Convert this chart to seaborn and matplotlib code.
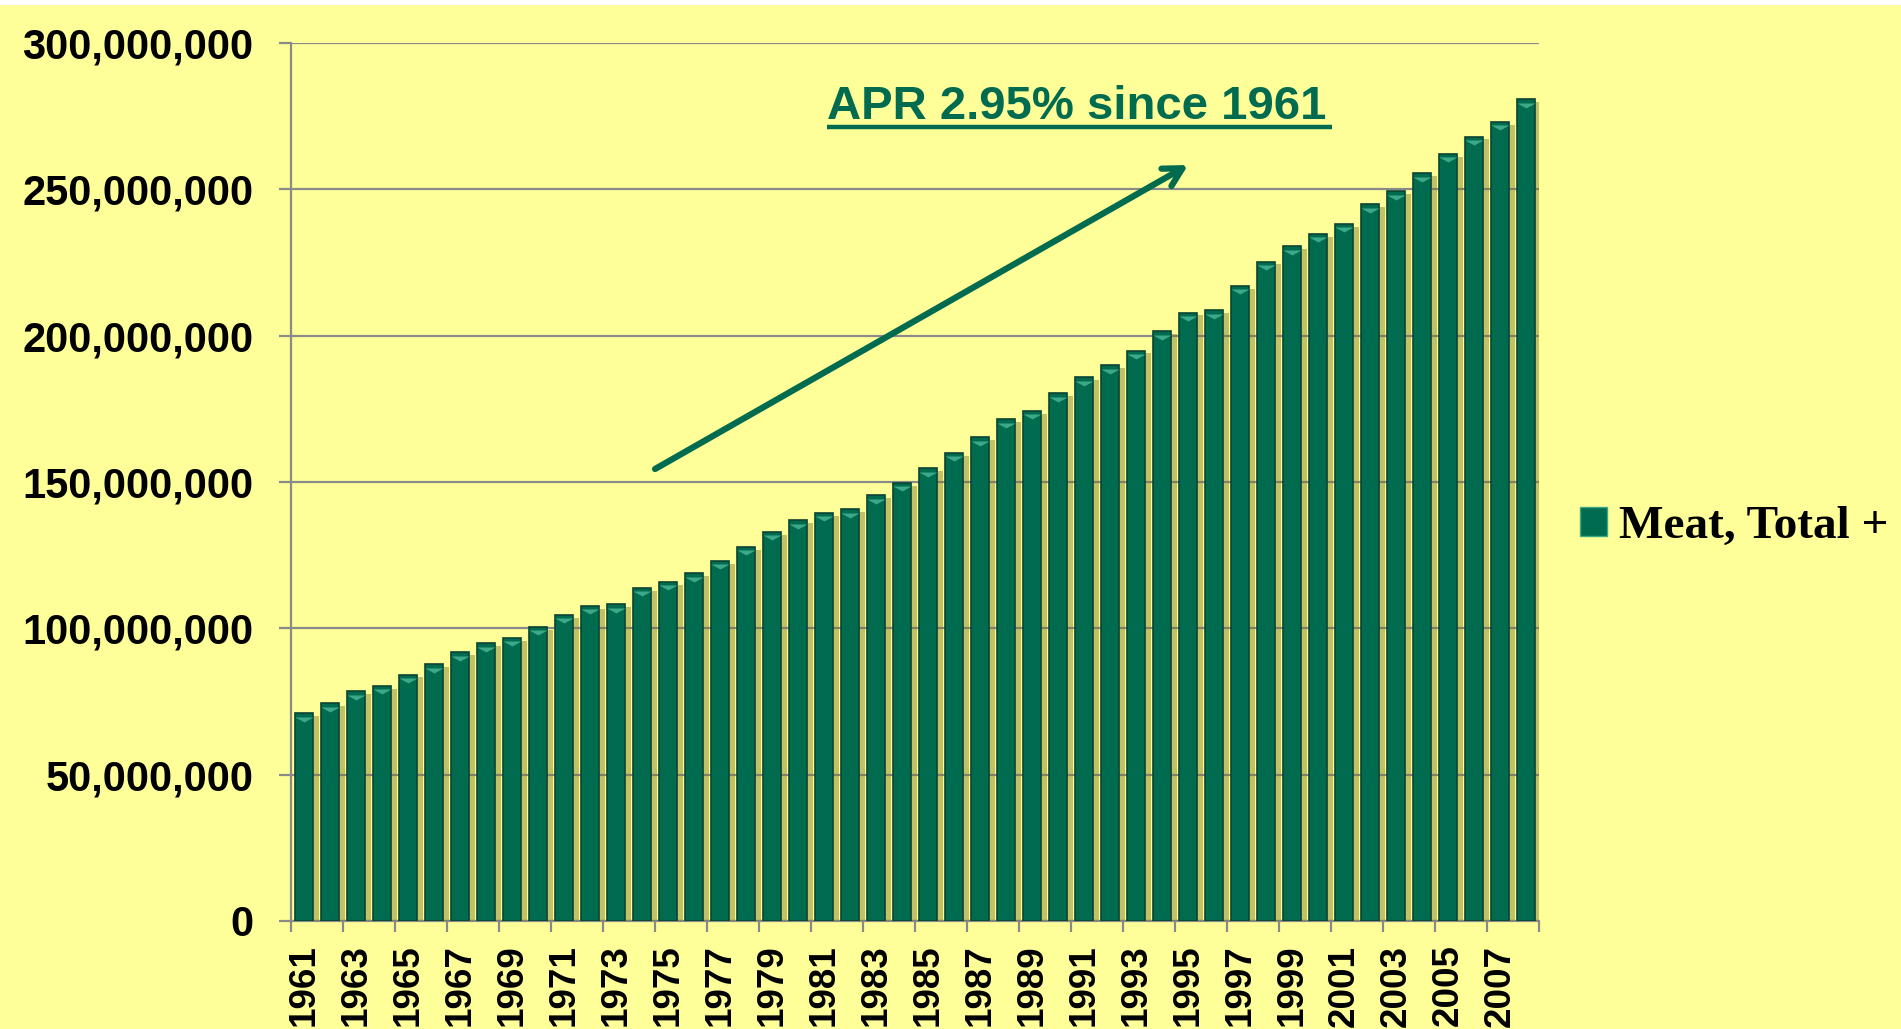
import matplotlib
matplotlib.use("Agg")
import matplotlib.pyplot as plt
import matplotlib.patheffects as pe
from matplotlib.patches import Rectangle, Patch
from matplotlib.path import Path
from matplotlib.ticker import FuncFormatter, FixedLocator
import matplotlib.transforms as mtransforms
import seaborn as sns
import pandas as pd

# World meat production, total (tonnes), 1961-2008
years = list(range(1961, 2009))
meat_total = [
    71.0e6, 74.4e6, 78.5e6, 80.3e6, 84.2e6, 87.8e6, 91.8e6, 94.9e6,
    96.7e6, 100.5e6, 104.6e6, 107.7e6, 108.2e6, 113.8e6, 115.9e6, 118.8e6,
    123.0e6, 127.8e6, 133.0e6, 137.0e6, 139.4e6, 140.7e6, 145.5e6, 149.7e6,
    154.7e6, 160.0e6, 165.3e6, 171.5e6, 174.3e6, 180.3e6, 185.8e6, 189.9e6,
    194.9e6, 201.5e6, 207.9e6, 208.7e6, 217.0e6, 225.3e6, 230.5e6, 234.8e6,
    238.2e6, 244.9e6, 249.4e6, 255.5e6, 262.1e6, 268.0e6, 273.1e6, 280.8e6,
]
series_name = "Meat, Total +"
annotation_text = "APR 2.95% since 1961"
y_ticks = [0, 50e6, 100e6, 150e6, 200e6, 250e6, 300e6]

df = pd.DataFrame({"year": [str(y) for y in years], "value": meat_total})

BG = "#FFFF99"
GREEN = "#006B4E"
GRID = "#8A8A8A"

sns.set_theme(style="white")
plt.rcParams["font.family"] = ["Liberation Sans", "DejaVu Sans"]
plt.rcParams["text.color"] = "black"
plt.rcParams["xtick.color"] = "black"
plt.rcParams["ytick.color"] = "black"

fig = plt.figure(figsize=(19.01, 10.29), dpi=100, facecolor=BG)
ax = fig.add_axes([291 / 1901, 1 - 921 / 1029, 1248 / 1901, 878 / 1029])
ax.set_facecolor(BG)

sns.barplot(data=df, x="year", y="value", color=GREEN, saturation=1,
            width=0.7, ax=ax, zorder=3, edgecolor="#0A4432", linewidth=1.2)

shadow = [pe.SimplePatchShadow(offset=(4, -2), shadow_rgbFace="#77772e", alpha=0.45),
          pe.Normal()]
for bar in ax.patches:
    bar.set_path_effects(shadow)

# light bevel at the top of each bar
bevel = Path([(-1, 0), (1, 0), (0, -0.55), (-1, 0)],
             [Path.MOVETO, Path.LINETO, Path.LINETO, Path.CLOSEPOLY])
offset = mtransforms.ScaledTranslation(0, -2.5 / 72, fig.dpi_scale_trans)
ax.plot(range(len(years)), meat_total, linestyle="none", marker=bevel,
        markersize=13, color="#3BA988", markeredgewidth=0,
        transform=ax.transData + offset, zorder=4)

ax.set_xlim(-0.5, len(years) - 0.5)
ax.set_ylim(0, 300e6)
ax.set_yticks(y_ticks)
ax.yaxis.set_major_formatter(FuncFormatter(lambda v, p: f"{int(v):,}"))
ax.grid(axis="y", color=GRID, linewidth=1.6, zorder=0)
ax.grid(axis="x", visible=False)

for side in ["top", "right"]:
    ax.spines[side].set_visible(False)
for side in ["left", "bottom"]:
    ax.spines[side].set_color(GRID)
    ax.spines[side].set_linewidth(1.6)

ax.set_xlabel("")
ax.set_ylabel("")

# year labels every other year, tick marks on category boundaries
ax.xaxis.set_major_locator(FixedLocator(list(range(0, len(years), 2))))
ax.set_xticklabels([str(y) for y in years[::2]], rotation=90, fontsize=26.5,
                   fontweight="bold", va="top", color="black")
ax.xaxis.set_minor_locator(FixedLocator([i - 0.5 for i in range(0, len(years) + 1, 2)]))
ax.tick_params(axis="x", which="major", length=0, pad=17, labelcolor="black")
ax.tick_params(axis="x", which="minor", length=8, width=1.6, color=GRID, bottom=True)
ax.tick_params(axis="y", which="major", length=9, width=1.6, color=GRID, left=True, pad=18,
               labelsize=30, labelcolor="black")
for lbl in ax.get_yticklabels():
    lbl.set_fontweight("bold")

# growth arrow and rate caption
ax.annotate("", xy=(0.7188, 0.861), xytext=(0.2917, 0.5148),
            xycoords="axes fraction", textcoords="axes fraction",
            arrowprops=dict(arrowstyle="->,head_length=1.1,head_width=0.6",
                            color=GREEN, linewidth=4.5, shrinkA=0, shrinkB=0),
            zorder=6)
cap = ax.text(0.4295, 0.9134, annotation_text, transform=ax.transAxes,
              ha="left", va="baseline", fontsize=34, fontweight="bold",
              color=GREEN, zorder=6)

fig.canvas.draw()
bb = cap.get_window_extent().transformed(ax.transAxes.inverted())
ax.plot([bb.x0, bb.x1 + 0.004], [0.9043, 0.9043], transform=ax.transAxes,
        color=GREEN, linewidth=3.2, solid_capstyle="butt", clip_on=False, zorder=6)

# legend
handle = Patch(facecolor=GREEN, edgecolor="#3BA988", linewidth=1.0)
leg = fig.legend([handle], [series_name], loc="center left",
                 bbox_to_anchor=(1580 / 1901, 1 - 527 / 1029), frameon=False,
                 prop={"family": ["Liberation Serif", "DejaVu Serif"], "weight": "bold",
                       "size": 34},
                 handlelength=0.58, handleheight=0.55, handletextpad=0.25,
                 borderpad=0, borderaxespad=0)
for t in leg.get_texts():
    t.set_color("black")

# thin white strip along the top edge
fig.patches.append(Rectangle((0, 1 - 5 / 1029), 1, 5 / 1029, transform=fig.transFigure,
                             facecolor="white", edgecolor="none", zorder=10))

fig.savefig("out.png", dpi=100, facecolor=BG)
